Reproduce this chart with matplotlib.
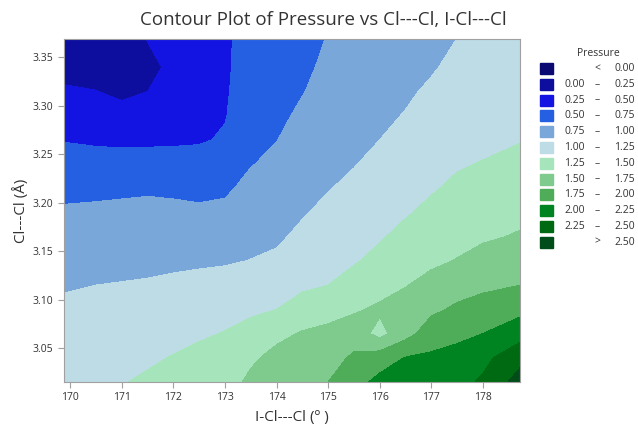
import numpy as np
import matplotlib
matplotlib.use("Agg")
import matplotlib.pyplot as plt
from matplotlib.patches import Rectangle

plt.rcParams['font.family'] = ['Open Sans', 'DejaVu Sans']

# grid (x = I-Cl---Cl angle, y = Cl---Cl distance)
angle = [169.88, 170.5, 171.0, 171.5, 172.0, 172.5, 173.0, 173.5, 174.0,
         174.5, 175.0, 175.5, 176.0, 176.5, 177.0, 177.5, 178.0, 178.72]
dist = [3.015, 3.04, 3.065, 3.09, 3.115, 3.14, 3.165, 3.19, 3.215,
        3.24, 3.265, 3.29, 3.315, 3.34, 3.37]

# one list per angle column, bottom -> top
pressure_cols = [
    [1.18, 1.13, 1.08, 1.04, 0.98, 0.92, 0.85, 0.78, 0.69, 0.59, 0.49, 0.38, 0.28, 0.17, 0.10],
    [1.20, 1.15, 1.10, 1.05, 1.00, 0.93, 0.86, 0.79, 0.70, 0.58, 0.47, 0.36, 0.255, 0.15, 0.10],
    [1.24, 1.18, 1.12, 1.07, 1.01, 0.94, 0.87, 0.80, 0.71, 0.58, 0.46, 0.33, 0.20, 0.12, 0.13],
    [1.28, 1.22, 1.15, 1.09, 1.02, 0.95, 0.88, 0.81, 0.72, 0.59, 0.46, 0.355, 0.249, 0.19, 0.26],
    [1.34, 1.26, 1.19, 1.11, 1.04, 0.96, 0.88, 0.80, 0.71, 0.58, 0.47, 0.40, 0.34, 0.30, 0.30],
    [1.39, 1.31, 1.22, 1.14, 1.06, 0.97, 0.88, 0.79, 0.69, 0.58, 0.48, 0.42, 0.37, 0.34, 0.33],
    [1.40, 1.33, 1.26, 1.17, 1.08, 0.98, 0.89, 0.80, 0.715, 0.64, 0.52, 0.49, 0.485, 0.48, 0.48],
    [1.55, 1.46, 1.33, 1.21, 1.11, 1.005, 0.94, 0.87, 0.81, 0.74, 0.68, 0.62, 0.57, 0.56, 0.55],
    [1.67, 1.57, 1.44, 1.25, 1.14, 1.04, 0.965, 0.91, 0.855, 0.80, 0.745, 0.70, 0.66, 0.63, 0.61],
    [1.68, 1.60, 1.52, 1.35, 1.21, 1.13, 1.05, 0.98, 0.93, 0.89, 0.84, 0.79, 0.74, 0.70, 0.67],
    [1.75, 1.65, 1.555, 1.42, 1.25, 1.18, 1.12, 1.055, 0.99, 0.95, 0.91, 0.87, 0.83, 0.80, 0.76],
    [1.91, 1.79, 1.63, 1.47, 1.34, 1.23, 1.17, 1.11, 1.05, 0.99, 0.94, 0.90, 0.86, 0.83, 0.80],
    [2.07, 1.88, 1.42, 1.54, 1.41, 1.31, 1.23, 1.17, 1.12, 1.06, 1.00, 0.96, 0.92, 0.88, 0.84],
    [2.11, 2.01, 1.66, 1.60, 1.49, 1.40, 1.31, 1.23, 1.18, 1.12, 1.07, 1.01, 0.97, 0.93, 0.89],
    [2.15, 2.04, 1.88, 1.70, 1.57, 1.46, 1.38, 1.30, 1.23, 1.18, 1.13, 1.08, 1.03, 0.98, 0.95],
    [2.16, 2.07, 1.95, 1.79, 1.65, 1.51, 1.43, 1.36, 1.29, 1.23, 1.18, 1.14, 1.09, 1.05, 1.00],
    [2.29, 2.18, 2.00, 1.85, 1.70, 1.58, 1.47, 1.40, 1.33, 1.26, 1.20, 1.15, 1.10, 1.07, 1.04],
    [2.60, 2.43, 2.15, 1.93, 1.75, 1.64, 1.52, 1.445, 1.375, 1.31, 1.24, 1.20, 1.16, 1.13, 1.10],
]

levels = [0.00, 0.25, 0.50, 0.75, 1.00, 1.25, 1.50, 1.75, 2.00, 2.25, 2.50]
colors = ['#0a0a72', '#0d0d9e', '#1414e2', '#2660e2', '#7aa7d9', '#bddce6',
          '#a6e4bb', '#7fcb8d', '#4fad5a', '#008421', '#006a12', '#004d1a']

Z = np.array(pressure_cols).T

fig = plt.figure(figsize=(6.38, 4.29), dpi=100)
ax = fig.add_axes([64/638, 1-382/429, (520-64)/638, (382-39)/429])

bounds = [-10] + levels + [10]
ax.contourf(angle, dist, Z, levels=bounds, colors=colors)

ax.set_xlim(169.88, 178.72)
ax.set_ylim(3.015, 3.369)
ax.set_xticks(range(170, 179))
ax.set_yticks([3.05, 3.10, 3.15, 3.20, 3.25, 3.30, 3.35])
ax.yaxis.set_major_formatter(matplotlib.ticker.FormatStrFormatter('%.2f'))
for s in ax.spines.values():
    s.set_color('#a0a0a0')
ax.tick_params(colors='#a0a0a0', labelcolor='#333333', labelsize=7.5, length=4)

ax.set_xlabel('I-Cl---Cl (º )', fontsize=11, color='#333333', labelpad=5)
ax.set_ylabel('Cl---Cl (Å)', fontsize=11, color='#333333', labelpad=3)
fig.text(0.506, 1-20/429, 'Contour Plot of Pressure vs Cl---Cl, I-Cl---Cl',
         ha='center', va='center', fontsize=13.5, color='#333333')

# legend drawn in pixel space
lax = fig.add_axes([0, 0, 1, 1])
lax.set_xlim(0, 638)
lax.set_ylim(429, 0)
lax.axis('off')
lax.text(598, 54, 'Pressure', ha='center', va='center', fontsize=7.5, color='#333333')
for i, c in enumerate(colors):
    yy = 68.5 + i * 15.8
    lax.add_patch(Rectangle((540, yy - 5.5), 12.5, 11, color=c))
    if i == 0:
        lax.text(597, yy, '<', ha='center', va='center', fontsize=7.5, color='#333333')
        lax.text(635, yy, '%.2f' % levels[0], ha='right', va='center', fontsize=7.5, color='#333333')
    elif i == len(colors) - 1:
        lax.text(597, yy, '>', ha='center', va='center', fontsize=7.5, color='#333333')
        lax.text(635, yy, '%.2f' % levels[-1], ha='right', va='center', fontsize=7.5, color='#333333')
    else:
        lax.text(585, yy, '%.2f' % levels[i-1], ha='right', va='center', fontsize=7.5, color='#333333')
        lax.text(597, yy, '–', ha='center', va='center', fontsize=7.5, color='#333333')
        lax.text(635, yy, '%.2f' % levels[i], ha='right', va='center', fontsize=7.5, color='#333333')

fig.savefig('out.png', dpi=100)
